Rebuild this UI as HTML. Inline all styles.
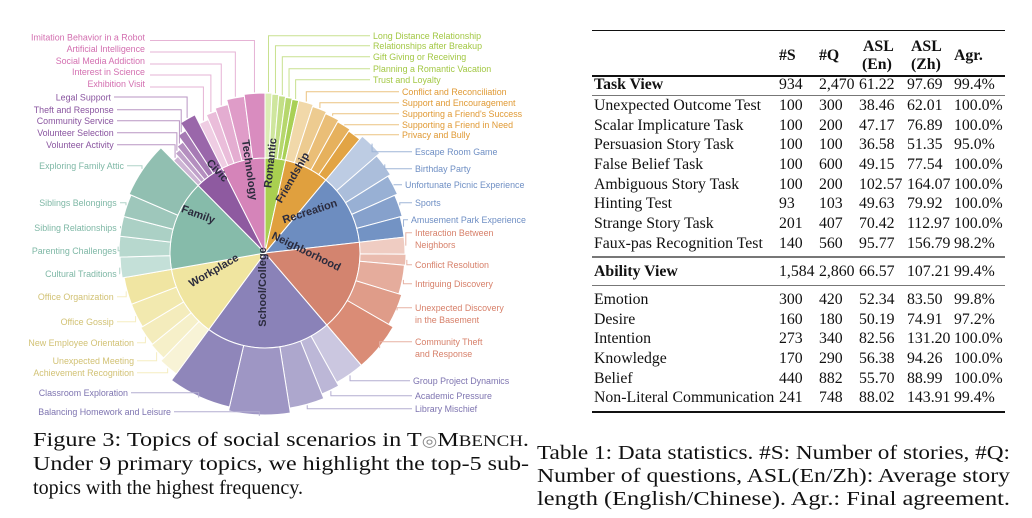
<!DOCTYPE html>
<html><head><meta charset="utf-8">
<style>
html,body{margin:0;padding:0;background:#fff;}
body{width:1032px;height:518px;position:relative;overflow:hidden;font-family:"Liberation Serif",serif;}
svg{position:absolute;left:0;top:0;}
.ln{position:absolute;font-family:"Liberation Serif",serif;font-size:20.5px;color:#111;line-height:20px;white-space:nowrap;transform-origin:0 50%;}
.t{position:absolute;font-family:"Liberation Serif",serif;font-size:15.8px;color:#111;white-space:nowrap;line-height:15px;}
.b{font-weight:bold;}
.rule{position:absolute;left:592px;width:413px;}
</style></head><body>
<svg id="sb" width="1032" height="518" viewBox="0 0 1032 518" font-family="Liberation Sans, sans-serif">
<g id="arcs"></g><g id="lines"></g>
<g font-size="8.9">
<g text-anchor="end" fill="#d36fb0">
<text x="145" y="40.5">Imitation Behavior in a Robot</text>
<text x="145" y="52">Artificial Intelligence</text>
<text x="145" y="64">Social Media Addiction</text>
<text x="145" y="75">Interest in Science</text>
<text x="145" y="87">Exhibition Visit</text>
</g>
<g text-anchor="end" fill="#8a55a0">
<text x="111" y="100.5">Legal Support</text>
<text x="113.7" y="113">Theft and Response</text>
<text x="113.7" y="124">Community Service</text>
<text x="113.7" y="136">Volunteer Selection</text>
<text x="113.7" y="148">Volunteer Activity</text>
</g>
<g text-anchor="end" fill="#7fb8a6">
<text x="124" y="169">Exploring Family Attic</text>
<text x="116.7" y="206">Siblings Belongings</text>
<text x="116.7" y="231">Sibling Relationships</text>
<text x="116.7" y="254">Parenting Challenges</text>
<text x="116.7" y="277">Cultural Traditions</text>
</g>
<g text-anchor="end" fill="#d2c275">
<text x="113.7" y="300">Office Organization</text>
<text x="113.7" y="325">Office Gossip</text>
<text x="134" y="346">New Employee Orientation</text>
<text x="134" y="364">Unexpected Meeting</text>
<text x="134" y="376">Achievement Recognition</text>
</g>
<g text-anchor="end" fill="#7e74b0">
<text x="128" y="396">Classroom Exploration</text>
<text x="171" y="415">Balancing Homework and Leisure</text>
</g>
<g fill="#a3c845">
<text x="373" y="39">Long Distance Relationship</text>
<text x="373" y="49">Relationships after Breakup</text>
<text x="373" y="60">Gift Giving or Receiving</text>
<text x="373" y="72">Planning a Romantic Vacation</text>
<text x="373" y="83">Trust and Loyalty</text>
</g>
<g fill="#e09a35">
<text x="402" y="95">Conflict and Reconciliation</text>
<text x="402" y="106">Support and Encouragement</text>
<text x="402" y="117">Supporting a Friend's Success</text>
<text x="402" y="128">Supporting a Friend in Need</text>
<text x="402" y="138">Privacy and Bully</text>
</g>
<g fill="#6f8fc4">
<text x="415" y="155">Escape Room Game</text>
<text x="415" y="172">Birthday Party</text>
<text x="405" y="188">Unfortunate Picnic Experience</text>
<text x="415" y="206">Sports</text>
<text x="411" y="223">Amusement Park Experience</text>
</g>
<g fill="#d7806a">
<text x="415" y="236">Interaction Between</text>
<text x="415" y="248">Neighbors</text>
<text x="415" y="268">Conflict Resolution</text>
<text x="415" y="287">Intriguing Discovery</text>
<text x="415" y="311">Unexpected Discovery</text>
<text x="415" y="323">in the Basement</text>
<text x="415" y="345">Community Theft</text>
<text x="415" y="357">and Response</text>
</g>
<g fill="#7e74b0">
<text x="413" y="384">Group Project Dynamics</text>
<text x="415" y="399">Academic Pressure</text>
<text x="415" y="412">Library Mischief</text>
</g>
</g>
<g font-size="11" font-weight="bold" fill="#2b2b3d" text-anchor="middle" dominant-baseline="middle">
<text transform="translate(249,170) rotate(82)">Technology</text>
<text transform="translate(271,163) rotate(-84)">Romantic</text>
<text transform="translate(293,178) rotate(-60)">Friendship</text>
<text transform="translate(310,212) rotate(-18)">Recreation</text>
<text transform="translate(306,252) rotate(26)">Neighborhood</text>
<text transform="translate(263,287) rotate(-90)">School/College</text>
<text transform="translate(214,271) rotate(-30)">Workplace</text>
<text transform="translate(198,215) rotate(20)">Family</text>
<text transform="translate(217,171) rotate(47)">Civic</text>
</g>
</svg>

<div class="rule" style="top:29.5px;height:1.5px;background:#111;"></div>
<div class="rule" style="top:75px;height:1.5px;background:#111;"></div>
<div class="rule" style="top:94.5px;height:1.5px;background:#777;"></div>
<div class="rule" style="top:256px;height:2px;background:#777;"></div>
<div class="rule" style="top:284.5px;height:1.5px;background:#777;"></div>
<div class="rule" style="top:411px;height:1.5px;background:#111;"></div>

<div class="t b" style="left:779px;top:48px;">#S</div>
<div class="t b" style="left:819px;top:48px;">#Q</div>
<div class="t b" style="left:863px;top:39px;">ASL</div>
<div class="t b" style="left:862px;top:57px;">(En)</div>
<div class="t b" style="left:911px;top:39px;">ASL</div>
<div class="t b" style="left:911px;top:57px;">(Zh)</div>
<div class="t b" style="left:954px;top:48px;">Agr.</div>

<div class="t b" style="left:594px;top:77px;">Task View</div><div class="t" style="left:779px;top:77px;">934</div><div class="t" style="left:819px;top:77px;">2,470</div><div class="t" style="left:859px;top:77px;">61.22</div><div class="t" style="left:907px;top:77px;">97.69</div><div class="t" style="left:954px;top:77px;">99.4%</div>
<div class="t" style="left:594px;top:98px;">Unexpected Outcome Test</div><div class="t" style="left:779px;top:98px;">100</div><div class="t" style="left:819px;top:98px;">300</div><div class="t" style="left:859px;top:98px;">38.46</div><div class="t" style="left:907px;top:98px;">62.01</div><div class="t" style="left:954px;top:98px;">100.0%</div>
<div class="t" style="left:594px;top:118px;">Scalar Implicature Task</div><div class="t" style="left:779px;top:118px;">100</div><div class="t" style="left:819px;top:118px;">200</div><div class="t" style="left:859px;top:118px;">47.17</div><div class="t" style="left:907px;top:118px;">76.89</div><div class="t" style="left:954px;top:118px;">100.0%</div>
<div class="t" style="left:594px;top:137px;">Persuasion Story Task</div><div class="t" style="left:779px;top:137px;">100</div><div class="t" style="left:819px;top:137px;">100</div><div class="t" style="left:859px;top:137px;">36.58</div><div class="t" style="left:907px;top:137px;">51.35</div><div class="t" style="left:954px;top:137px;">95.0%</div>
<div class="t" style="left:594px;top:157px;">False Belief Task</div><div class="t" style="left:779px;top:157px;">100</div><div class="t" style="left:819px;top:157px;">600</div><div class="t" style="left:859px;top:157px;">49.15</div><div class="t" style="left:907px;top:157px;">77.54</div><div class="t" style="left:954px;top:157px;">100.0%</div>
<div class="t" style="left:594px;top:177px;">Ambiguous Story Task</div><div class="t" style="left:779px;top:177px;">100</div><div class="t" style="left:819px;top:177px;">200</div><div class="t" style="left:859px;top:177px;">102.57</div><div class="t" style="left:907px;top:177px;">164.07</div><div class="t" style="left:954px;top:177px;">100.0%</div>
<div class="t" style="left:594px;top:196px;">Hinting Test</div><div class="t" style="left:779px;top:196px;">93</div><div class="t" style="left:819px;top:196px;">103</div><div class="t" style="left:859px;top:196px;">49.63</div><div class="t" style="left:907px;top:196px;">79.92</div><div class="t" style="left:954px;top:196px;">100.0%</div>
<div class="t" style="left:594px;top:216px;">Strange Story Task</div><div class="t" style="left:779px;top:216px;">201</div><div class="t" style="left:819px;top:216px;">407</div><div class="t" style="left:859px;top:216px;">70.42</div><div class="t" style="left:907px;top:216px;">112.97</div><div class="t" style="left:954px;top:216px;">100.0%</div>
<div class="t" style="left:594px;top:236px;">Faux-pas Recognition Test</div><div class="t" style="left:779px;top:236px;">140</div><div class="t" style="left:819px;top:236px;">560</div><div class="t" style="left:859px;top:236px;">95.77</div><div class="t" style="left:907px;top:236px;">156.79</div><div class="t" style="left:954px;top:236px;">98.2%</div>
<div class="t b" style="left:594px;top:264px;">Ability View</div><div class="t" style="left:779px;top:264px;">1,584</div><div class="t" style="left:819px;top:264px;">2,860</div><div class="t" style="left:859px;top:264px;">66.57</div><div class="t" style="left:907px;top:264px;">107.21</div><div class="t" style="left:954px;top:264px;">99.4%</div>
<div class="t" style="left:594px;top:292px;">Emotion</div><div class="t" style="left:779px;top:292px;">300</div><div class="t" style="left:819px;top:292px;">420</div><div class="t" style="left:859px;top:292px;">52.34</div><div class="t" style="left:907px;top:292px;">83.50</div><div class="t" style="left:954px;top:292px;">99.8%</div>
<div class="t" style="left:594px;top:312px;">Desire</div><div class="t" style="left:779px;top:312px;">160</div><div class="t" style="left:819px;top:312px;">180</div><div class="t" style="left:859px;top:312px;">50.19</div><div class="t" style="left:907px;top:312px;">74.91</div><div class="t" style="left:954px;top:312px;">97.2%</div>
<div class="t" style="left:594px;top:331px;">Intention</div><div class="t" style="left:779px;top:331px;">273</div><div class="t" style="left:819px;top:331px;">340</div><div class="t" style="left:859px;top:331px;">82.56</div><div class="t" style="left:907px;top:331px;">131.20</div><div class="t" style="left:954px;top:331px;">100.0%</div>
<div class="t" style="left:594px;top:351px;">Knowledge</div><div class="t" style="left:779px;top:351px;">170</div><div class="t" style="left:819px;top:351px;">290</div><div class="t" style="left:859px;top:351px;">56.38</div><div class="t" style="left:907px;top:351px;">94.26</div><div class="t" style="left:954px;top:351px;">100.0%</div>
<div class="t" style="left:594px;top:371px;">Belief</div><div class="t" style="left:779px;top:371px;">440</div><div class="t" style="left:819px;top:371px;">882</div><div class="t" style="left:859px;top:371px;">55.70</div><div class="t" style="left:907px;top:371px;">88.99</div><div class="t" style="left:954px;top:371px;">100.0%</div>
<div class="t" style="left:594px;top:390px;">Non-Literal Communication</div><div class="t" style="left:779px;top:390px;">241</div><div class="t" style="left:819px;top:390px;">748</div><div class="t" style="left:859px;top:390px;">88.02</div><div class="t" style="left:907px;top:390px;">143.91</div><div class="t" style="left:954px;top:390px;">99.4%</div>

<div class="ln" data-w="496" style="left:33px;top:430px;">Figure 3: Topics of social scenarios in T<span style="font-size:15px;color:#888;">◎</span>M<span style="font-size:16px;">BENCH</span>.</div>
<div class="ln" data-w="496" style="left:33px;top:454px;">Under 9 primary topics, we highlight the top-5 sub-</div>
<div class="ln" data-w="270" style="left:33px;top:478px;">topics with the highest frequency.</div>
<div class="ln" data-w="473" style="left:537px;top:443px;">Table 1: Data statistics. #S: Number of stories, #Q:</div>
<div class="ln" data-w="473" style="left:537px;top:466px;">Number of questions, ASL(En/Zh): Average story</div>
<div class="ln" data-w="473" style="left:537px;top:489px;">length (English/Chinese). Agr.: Final agreement.</div>

<script>
(function(){
document.querySelectorAll('.ln').forEach(function(e){var w=e.getBoundingClientRect().width;var tw=+e.getAttribute('data-w');if(w>0)e.style.transform='scaleX('+(tw/w)+')';});
var cx=265,cy=253,ri=95;
function pt(a,r){var t=a*Math.PI/180;return [cx+r*Math.sin(t),cy-r*Math.cos(t)];}
function arc(a0,a1,r0,r1){var p0=pt(a0,r1),p1=pt(a1,r1),p2=pt(a1,r0),p3=pt(a0,r0);var l=(a1-a0)>180?1:0;
var d='M'+p0+' A'+r1+','+r1+' 0 '+l+' 1 '+p1+' L'+p2;
if(r0>0)d+=' A'+r0+','+r0+' 0 '+l+' 0 '+p3;else d+=' L'+cx+','+cy;return d+'Z';}
function mix(a,b,t){var A=[1,3,5].map(function(i){return parseInt(a.substr(i,2),16)}),B=[1,3,5].map(function(i){return parseInt(b.substr(i,2),16)});return 'rgb('+A.map(function(v,i){return Math.round(v+(B[i]-v)*t)}).join(',')+')';}
var T=[
{c:'#d584b9',l:'#efcde3',d:'#d98cbf',b:[333.1,337,341,346,352.5,360],r:[145,150,153,158,160],
 lab:[[150,87],[150,75],[150,64],[150,52],[150,40.5]]},
{c:'#a9cf50',l:'#dcedb6',d:'#a9d055',b:[0,2.5,5,7.5,10,12.5],r:[160,159,158,157,156],
 lab:[[370,35.7],[370,45.7],[370,56.7],[370,68.7],[370,79.7]]},
{c:'#e0a03e',l:'#f1d8a9',d:'#e2a444',b:[12.5,18,23.5,29,34.5,39.8],r:[156,154,152,150,148],
 lab:[[399,91.7],[399,102.7],[399,113.7],[399,124.7],[399,134.7]]},
{c:'#6d8dc0',l:'#bdcce3',d:'#7393c4',b:[39.8,49,58,66,75,83.5],r:[152,148,145,142,140],
 lab:[[412,151.7],[412,168.7],[402,184.7],[412,202.7],[408,219.7]]},
{c:'#d3846f',l:'#efccc2',d:'#da8c76',b:[83.5,90.5,95,107,120,139.4],r:[140,141,140,143,148],
 lab:[[412,232.7],[412,264.7],[412,283.7],[412,307.7],[412,341.7]]},
{c:'#8a82b8',l:'#cbc7e0',d:'#8f86ba',b:[139.4,151,158,171,193,216.3],r:[148,152,157,162,158],
 lab:[[410,380.7],[412,395.7],[412,408.7],[174,411.7],[131,392.7]]},
{c:'#f0e5a0',l:'#f8f3d6',d:'#f0e5a2',b:[216.3,224,231,239,249,260.1],r:[150,146,145,143,143],
 lab:[[137,372.7],[137,360.7],[137,342.7],[117,321.7],[117,296.7]]},
{c:'#86bbaa',l:'#c4e0d8',d:'#91bfb1',b:[260.1,268.4,276.6,284.5,293.4,315.3],r:[145,146,146,146,148],
 lab:[[120,273.7],[120,250.7],[120,227.7],[120,202.7],[127,165.7]]},
{c:'#8e5aa0',l:'#cdb5d4',d:'#9a67aa',b:[315.3,318,320.5,323.5,327,333.1],r:[130,134,138,146,155],
 lab:[[117,144.7],[117,132.7],[117,120.7],[117,109.7],[114,97]]}
];
var g='',ln='';
T.forEach(function(t){
 g+='<path d="'+arc(t.b[0],t.b[5],0,ri)+'" fill="'+t.c+'" stroke="#fff" stroke-width="1"/>';
 for(var i=0;i<5;i++){
  g+='<path d="'+arc(t.b[i],t.b[i+1],ri,t.r[i])+'" fill="'+mix(t.l,t.d,i/4)+'" stroke="#fff" stroke-width="1"/>';
  var m=(t.b[i]+t.b[i+1])/2,e=pt(m,t.r[i]+1),L=t.lab[i];
  ln+='<polyline points="'+L[0]+','+L[1]+' '+e[0]+','+L[1]+' '+e[0]+','+e[1]+'" fill="none" stroke="'+mix(t.l,t.d,0.4)+'" stroke-width="1"/>';
 }
});
document.getElementById('arcs').innerHTML=g;
document.getElementById('lines').innerHTML=ln;
})();
</script>
</body></html>
